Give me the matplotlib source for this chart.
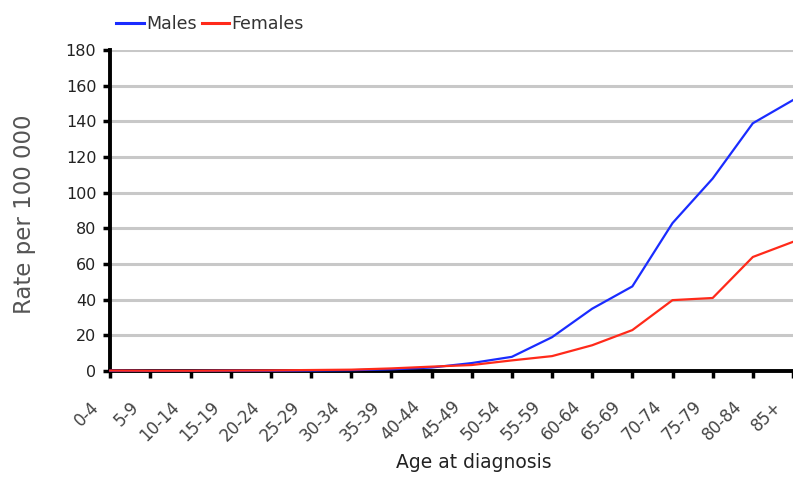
import matplotlib
matplotlib.use("Agg")
from matplotlib import pyplot as plt
from matplotlib.lines import Line2D

age_groups = ["0-4", "5-9", "10-14", "15-19", "20-24", "25-29", "30-34", "35-39",
              "40-44", "45-49", "50-54", "55-59", "60-64", "65-69", "70-74",
              "75-79", "80-84", "85+"]
males = [0.2, 0.1, 0.1, 0.2, 0.2, 0.3, 0.5, 1.0, 2.0, 4.5, 8.0, 19.0, 35.0, 47.5,
         83.0, 108.0, 139.0, 152.0]
females = [0.3, 0.2, 0.2, 0.3, 0.4, 0.6, 0.8, 1.5, 2.5, 3.4, 6.0, 8.4, 14.5, 23.0,
           39.8, 41.0, 64.0, 72.5]

plt.rcParams['font.family'] = ['DejaVu Sans']

fig = plt.figure(figsize=(7.93, 4.87), dpi=100)
ax = fig.add_axes([0.139, 0.238, 0.861, 0.659])

x = list(range(len(age_groups)))
ax.plot(x, males, color="#1a2cff", lw=1.6, zorder=3, clip_on=False)
ax.plot(x, females, color="#ff2a1a", lw=1.6, zorder=4, clip_on=False)

ax.set_xlim(0, len(age_groups) - 1)
ax.set_ylim(0, 180)
ax.set_yticks(range(0, 181, 20))
ax.set_xticks(x)
ax.set_xticklabels([])
# rotated labels, ending a little left of their ticks like the original
for i, lab in enumerate(age_groups):
    ax.annotate(lab, xy=(i, 0), xycoords=("data", "axes fraction"),
                xytext=(-14, -33), textcoords="offset pixels", rotation=45,
                ha="right", va="center", rotation_mode="anchor",
                fontsize=12, color="#444444", annotation_clip=False)
ax.tick_params(axis="y", labelsize=11.5, colors="black", length=5, width=2.5, pad=5,
               labelcolor="#222222")
ax.tick_params(axis="x", length=5, width=2.5)

ax.yaxis.grid(True, color="#c8c8c8", lw=2.2)
ax.set_axisbelow(True)
for s in ["top", "right"]:
    ax.spines[s].set_visible(False)
ax.spines["left"].set_linewidth(2.8)
ax.spines["bottom"].set_linewidth(2.8)

ax.set_xlabel("Age at diagnosis", fontsize=13.5, color="#222222")
ax.xaxis.set_label_coords(0.533, -0.255)
ax.set_ylabel("Rate per 100 000", fontsize=16.5, color="#555555")
ax.yaxis.set_label_coords(-0.108, 0.49)

handles = [Line2D([], [], color="#1a2cff", lw=2.2), Line2D([], [], color="#ff2a1a", lw=2.2)]
fig.legend(handles, ["Males", "Females"], loc="center left", bbox_to_anchor=(0.127, 0.950),
           ncol=2, frameon=False, fontsize=12.5, handlelength=1.6, handletextpad=0.1,
           columnspacing=0.3, labelcolor="#333333")

fig.savefig("out.png", dpi=100)
